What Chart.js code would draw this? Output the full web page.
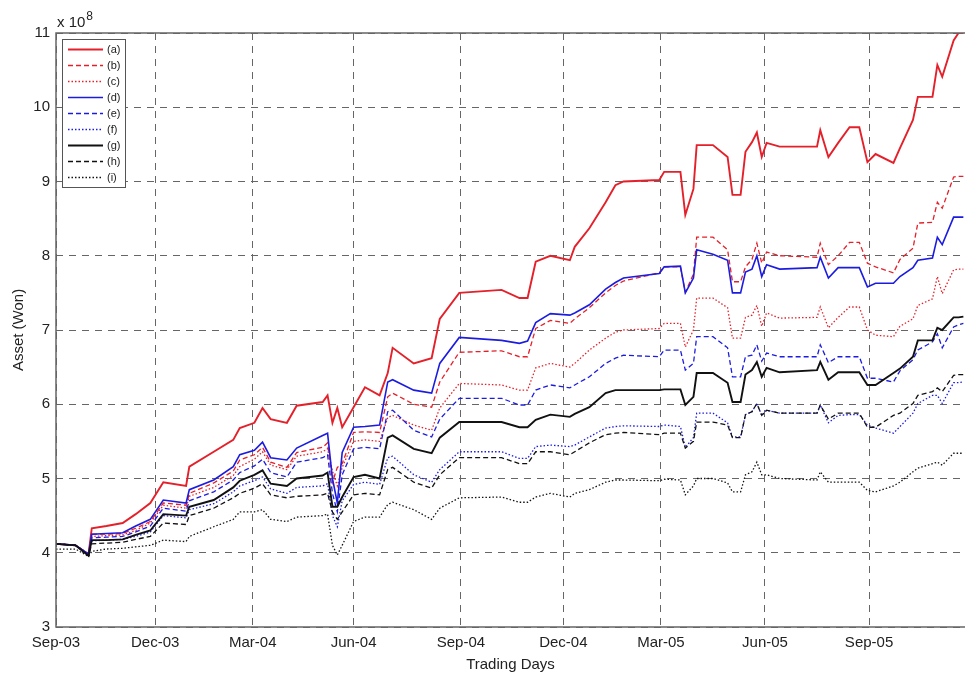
<!DOCTYPE html>
<html><head><meta charset="utf-8">
<script src="https://cdn.jsdelivr.net/npm/chart.js@4/dist/chart.umd.min.js"></script>
<style>html,body{margin:0;padding:0;background:#fff;}</style>
</head><body>
<canvas id="c" width="965" height="675"></canvas>
<script>
// trading-day index (0 = start of Sep-03)
const days = [0,12,20,22,31,41,49,58,66,80, 82,97,109,113,122,127,132,142,148,164, 167,170,173,176,183,190,199,204,207,220, 231,236,248,274,285,290,295,304,316,319, 328,338,344,349,371,374,384,387,392,394, 404,413,416,421,424,428,431,434,437,445, 468,470,475,481,488,494,499,504,515,519, 527,530,539,542,545,552,555,558];
// asset values, in units of 10^8 Won
const seriesA = [4.12,4.10,3.98,4.33,4.36,4.40,4.52,4.67,4.95,4.90, 5.16,5.36,5.52,5.68,5.75,5.95,5.80,5.75,5.98,6.03, 6.12,5.75,5.95,5.69,5.96,6.23,6.12,6.42,6.76,6.55, 6.62,7.15,7.50,7.54,7.43,7.43,7.92,8.00,7.94,8.12, 8.37,8.72,8.95,9.00,9.02,9.13,9.13,8.55,8.90,9.49, 9.49,9.33,8.82,8.82,9.40,9.53,9.66,9.33,9.52,9.47, 9.47,9.69,9.33,9.52,9.73,9.73,9.26,9.37,9.25,9.45, 9.83,10.14,10.14,10.57,10.41,10.90,11.0,11.0];
const seriesB = [4.12,4.10,3.98,4.25,4.25,4.26,4.33,4.42,4.67,4.64, 4.80,4.94,5.10,5.25,5.32,5.42,5.22,5.15,5.35,5.42, 5.48,4.95,5.15,5.20,5.62,5.63,5.62,6.10,6.15,6.00, 5.96,6.30,6.70,6.72,6.64,6.64,7.02,7.13,7.09,7.15, 7.30,7.50,7.60,7.66,7.77,7.85,7.85,7.51,7.75,8.25, 8.25,8.08,7.65,7.65,7.85,7.95,8.17,7.90,8.05,8.00, 7.98,8.17,7.88,8.00,8.18,8.18,7.90,7.85,7.77,7.95, 8.10,8.44,8.45,8.72,8.64,9.06,9.07,9.07];
const seriesC = [4.12,4.10,3.98,4.22,4.23,4.24,4.30,4.40,4.64,4.60, 4.76,4.88,5.04,5.16,5.26,5.36,5.18,5.12,5.30,5.36, 5.40,5.10,4.90,5.15,5.50,5.52,5.50,5.82,5.85,5.72, 5.65,5.95,6.28,6.26,6.19,6.19,6.49,6.55,6.50,6.55, 6.73,6.89,6.97,7.00,7.02,7.09,7.09,6.77,7.00,7.43, 7.43,7.30,6.89,6.89,7.17,7.20,7.33,7.05,7.23,7.16, 7.17,7.31,7.03,7.17,7.31,7.31,7.00,6.93,6.91,7.05, 7.15,7.33,7.42,7.72,7.49,7.81,7.82,7.82];
const seriesD = [4.12,4.10,3.98,4.25,4.26,4.27,4.36,4.45,4.71,4.67, 4.85,4.98,5.16,5.32,5.38,5.49,5.28,5.25,5.41,5.58, 5.61,5.00,4.67,5.35,5.69,5.70,5.72,6.30,6.33,6.19, 6.15,6.55,6.90,6.86,6.82,6.85,7.10,7.22,7.20,7.23, 7.34,7.55,7.64,7.70,7.76,7.85,7.86,7.50,7.70,8.08, 8.02,7.94,7.50,7.50,7.78,7.82,8.00,7.72,7.88,7.82, 7.84,7.98,7.70,7.84,7.84,7.84,7.58,7.63,7.63,7.72, 7.84,7.94,7.97,8.25,8.15,8.52,8.52,8.52];
const seriesE = [4.12,4.10,3.98,4.20,4.21,4.22,4.28,4.36,4.60,4.56, 4.70,4.82,4.98,5.08,5.17,5.26,5.08,5.02,5.22,5.28, 5.32,4.80,4.55,5.05,5.40,5.42,5.40,5.90,5.92,5.65, 5.56,5.80,6.08,6.08,5.99,5.99,6.19,6.26,6.22,6.26, 6.37,6.55,6.62,6.66,6.64,6.73,6.73,6.46,6.55,6.91, 6.91,6.76,6.37,6.37,6.64,6.66,6.80,6.58,6.69,6.64, 6.64,6.80,6.56,6.64,6.64,6.64,6.35,6.35,6.30,6.45, 6.60,6.73,6.84,6.95,6.76,7.04,7.07,7.09];
const seriesF = [4.12,4.10,3.98,4.16,4.17,4.18,4.22,4.28,4.50,4.47, 4.58,4.66,4.82,4.90,4.97,5.02,4.86,4.80,4.88,4.90, 4.93,4.50,4.35,4.70,4.92,4.95,4.92,5.28,5.30,5.05, 4.95,5.12,5.36,5.36,5.27,5.27,5.43,5.45,5.43,5.45, 5.56,5.68,5.70,5.71,5.70,5.72,5.70,5.42,5.55,5.88, 5.88,5.75,5.56,5.56,5.86,5.90,6.01,5.85,5.92,5.88, 5.88,5.99,5.75,5.85,5.86,5.86,5.72,5.68,5.61,5.70, 5.88,6.01,6.12,6.12,6.01,6.29,6.29,6.30];
const seriesG = [4.12,4.10,3.96,4.17,4.17,4.18,4.24,4.30,4.52,4.50, 4.62,4.71,4.88,4.97,5.05,5.11,4.93,4.90,5.00,5.04, 5.08,4.62,4.62,4.75,5.02,5.05,5.00,5.55,5.58,5.40, 5.34,5.55,5.76,5.76,5.69,5.69,5.79,5.86,5.83,5.87, 5.96,6.15,6.19,6.19,6.19,6.20,6.20,5.99,6.10,6.42, 6.42,6.29,6.03,6.03,6.40,6.46,6.57,6.37,6.49,6.43, 6.46,6.57,6.33,6.43,6.43,6.43,6.26,6.26,6.42,6.48, 6.64,6.86,6.86,7.03,7.00,7.17,7.17,7.18];
const seriesH = [4.12,4.10,3.96,4.12,4.13,4.14,4.18,4.22,4.40,4.38, 4.50,4.60,4.74,4.80,4.87,4.93,4.78,4.74,4.76,4.78, 4.80,4.55,4.45,4.55,4.78,4.80,4.78,5.12,5.15,4.95, 4.87,5.05,5.28,5.28,5.20,5.20,5.36,5.36,5.32,5.36, 5.48,5.59,5.61,5.62,5.59,5.61,5.61,5.41,5.50,5.76, 5.76,5.72,5.55,5.55,5.86,5.90,6.01,5.85,5.92,5.88, 5.88,5.99,5.80,5.88,5.88,5.88,5.69,5.69,5.85,5.88, 6.01,6.12,6.17,6.22,6.17,6.39,6.40,6.40];
const seriesI = [4.05,4.05,3.95,4.02,4.05,4.06,4.08,4.10,4.17,4.15, 4.22,4.35,4.45,4.55,4.55,4.58,4.45,4.42,4.48,4.50, 4.52,4.10,3.97,4.10,4.42,4.48,4.48,4.65,4.68,4.58, 4.45,4.60,4.74,4.75,4.68,4.68,4.75,4.80,4.75,4.80, 4.85,4.95,4.98,4.98,4.97,4.99,4.98,4.78,4.90,5.00, 5.00,4.94,4.82,4.82,5.05,5.09,5.22,5.05,5.05,5.00, 4.98,5.09,4.95,4.95,4.95,4.95,4.84,4.82,4.90,4.95, 5.09,5.14,5.20,5.22,5.18,5.34,5.34,5.34];
const seriesLabels = ['(a)','(b)','(c)','(d)','(e)','(f)','(g)','(h)','(i)'];
const tickDays = [0,61,121,183,249,312,372,436,500];
const tickLabels = ['Sep-03','Dec-03','Mar-04','Jun-04','Sep-04','Dec-04','Mar-05','Jun-05','Sep-05'];
const yTicks = [3,4,5,6,7,8,9,10,11];

const FONT = '"Liberation Sans", Arial, Helvetica, sans-serif';
const RED = '#e4202a', BLUE = '#1c1ce0', BLACK = '#111111';
const styles = [
  [RED, [], 1.9], [RED, [5,3], 1.3], [RED, [1.5,2], 1.3],
  [BLUE, [], 1.6], [BLUE, [5,3], 1.3], [BLUE, [1.5,2], 1.3],
  [BLACK, [], 1.9], [BLACK, [5,3], 1.3], [BLACK, [1.5,2], 1.3]
];
const allSeries = [seriesA, seriesB, seriesC, seriesD, seriesE, seriesF, seriesG, seriesH, seriesI];

const datasets = allSeries.map((s, k) => ({
  label: seriesLabels[k],
  data: days.map((d, i) => ({x: d, y: s[i]})),
  borderColor: styles[k][0],
  borderDash: styles[k][1],
  borderWidth: styles[k][2],
  pointRadius: 0,
  tension: 0,
  fill: false,
  order: 9 - k
}));

const framePlugin = {
  id: 'frameLegend',
  afterDraw(chart) {
    const {ctx, chartArea: a} = chart;
    ctx.save();
    ctx.setLineDash([]);
    ctx.strokeStyle = '#666';
    ctx.lineWidth = 1.5;
    ctx.beginPath();
    ctx.moveTo(a.right, a.top);
    ctx.lineTo(a.left, a.top);
    ctx.lineTo(a.left, a.bottom);
    ctx.lineTo(a.right, a.bottom);
    ctx.stroke();
    // exponent label
    ctx.fillStyle = '#222';
    ctx.textBaseline = 'alphabetic';
    ctx.textAlign = 'left';
    ctx.font = '15px ' + FONT;
    ctx.fillText('x 10', a.left + 1, a.top - 6);
    const w = ctx.measureText('x 10').width;
    ctx.font = '12px ' + FONT;
    ctx.fillText('8', a.left + 2 + w, a.top - 13);
    // legend box
    const lx = a.left + 6, ly = a.top + 6, lw = 63, lh = 148;
    ctx.fillStyle = '#fff';
    ctx.fillRect(lx, ly, lw, lh);
    ctx.strokeStyle = '#555';
    ctx.lineWidth = 1;
    ctx.strokeRect(lx + 0.5, ly + 0.5, lw, lh);
    chart.data.datasets.forEach((ds, i) => {
      const y = ly + 10.5 + i * 16;
      ctx.strokeStyle = ds.borderColor;
      ctx.lineWidth = ds.borderWidth;
      ctx.setLineDash(ds.borderDash);
      ctx.beginPath();
      ctx.moveTo(lx + 6, y);
      ctx.lineTo(lx + 41, y);
      ctx.stroke();
      ctx.setLineDash([]);
      ctx.fillStyle = '#222';
      ctx.font = '11px ' + FONT;
      ctx.textBaseline = 'middle';
      ctx.fillText(ds.label, lx + 45, y + 0.5);
    });
    ctx.restore();
  }
};

new Chart(document.getElementById('c'), {
  type: 'line',
  data: {datasets},
  plugins: [framePlugin],
  options: {
    responsive: false,
    animation: false,
    devicePixelRatio: 1,
    layout: {padding: {top: 33, right: 0, left: 0, bottom: 0}},
    plugins: {legend: {display: false}, tooltip: {enabled: false}},
    scales: {
      x: {
        type: 'linear', min: 0, max: 559,
        afterBuildTicks: (s) => { s.ticks = tickDays.map(v => ({value: v})); },
        afterFit: (s) => { s.height = 48; },
        ticks: {
          autoSkip: false, maxRotation: 0, padding: 7, color: '#222',
          font: {family: FONT, size: 15},
          callback: (v) => { const i = tickDays.indexOf(v); return i >= 0 ? tickLabels[i] : ''; }
        },
        grid: {color: '#666', lineWidth: 1, drawTicks: false},
        border: {display: false, dash: [7, 6]},
        title: {display: true, text: 'Trading Days', color: '#222', font: {family: FONT, size: 15}, padding: {top: 0, bottom: 1}}
      },
      y: {
        type: 'linear', min: 3, max: 11,
        afterBuildTicks: (s) => { s.ticks = yTicks.map(v => ({value: v})); },
        afterFit: (s) => { s.width = 56; },
        ticks: {padding: 6, color: '#222', font: {family: FONT, size: 15}},
        grid: {color: '#666', lineWidth: 1, drawTicks: false},
        border: {display: false, dash: [7, 6]},
        title: {display: true, text: 'Asset (Won)', color: '#222', font: {family: FONT, size: 15}, padding: {top: 10, bottom: 0}}
      }
    }
  }
});
</script>
</body></html>
